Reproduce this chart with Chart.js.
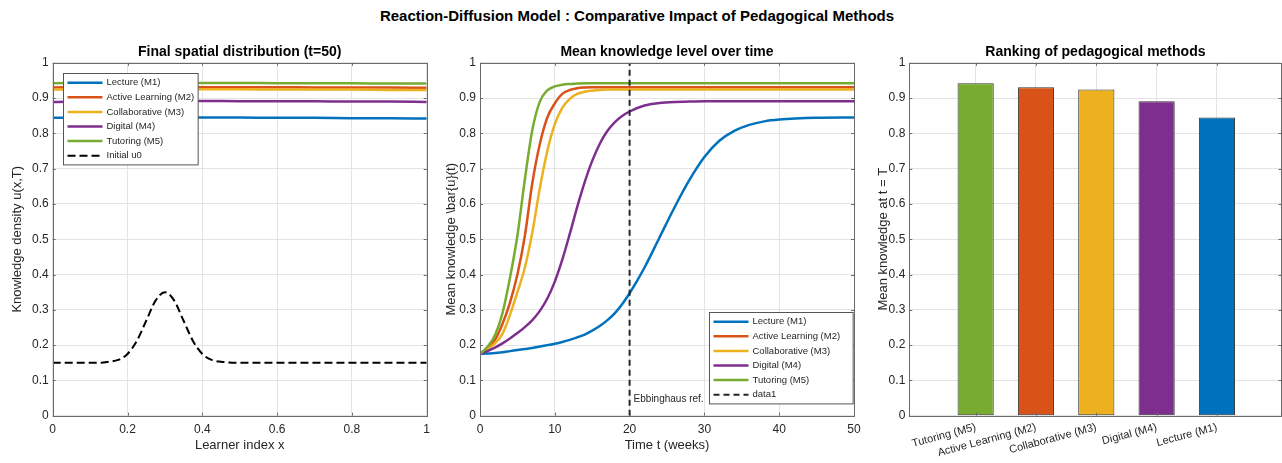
<!DOCTYPE html>
<html>
<head>
<meta charset="utf-8">
<title>Reaction-Diffusion Model</title>
<script src="https://cdn.jsdelivr.net/npm/chart.js@4.4.1/dist/chart.umd.min.js"></script>
<style>
  html, body { margin: 0; padding: 0; background: #fff; }
  #page { position: relative; width: 1282px; height: 463px; overflow: hidden; font-family: "Liberation Sans", Arial, sans-serif; }
  #suptitle { position: absolute; top: 7px; left: 0; width: 1274px; text-align: center; font-weight: bold; font-size: 15px; color: #000; }
  canvas { position: absolute; top: 40px; }
</style>
</head>
<body>
<div id="page">
  <div id="suptitle">Reaction-Diffusion Model : Comparative Impact of Pedagogical Methods</div>
  <canvas id="spatial" width="440" height="423" style="left:0px"></canvas>
  <canvas id="mean" width="430" height="423" style="left:440px"></canvas>
  <canvas id="ranking" width="412" height="423" style="left:870px"></canvas>
</div>
<script>
// ---- data ----
const methods = ["Lecture (M1)", "Active Learning (M2)", "Collaborative (M3)", "Digital (M4)", "Tutoring (M5)"];
const methodColors = ["#0072BD", "#D95319", "#EDB120", "#7E2F8E", "#77AC30"];

// panel 1: final profile u(x, T)
const learnerX = [0, 0.1, 0.2, 0.3, 0.4, 0.5, 0.6, 0.7, 0.8, 0.9, 1];
const finalM1 = [0.844, 0.845, 0.845, 0.845, 0.845, 0.845, 0.844, 0.844, 0.843, 0.843, 0.842];
const finalM2 = [0.930, 0.931, 0.931, 0.931, 0.931, 0.931, 0.931, 0.930, 0.930, 0.930, 0.929];
const finalM3 = [0.924, 0.925, 0.925, 0.925, 0.925, 0.925, 0.924, 0.924, 0.924, 0.923, 0.923];
const finalM4 = [0.889, 0.891, 0.891, 0.892, 0.892, 0.891, 0.891, 0.891, 0.890, 0.890, 0.889];
const finalM5 = [0.942, 0.943, 0.943, 0.943, 0.943, 0.943, 0.942, 0.942, 0.942, 0.941, 0.941];

const initX  = [0, 0.1, 0.125, 0.15, 0.175, 0.2, 0.225, 0.25, 0.275, 0.3, 0.325, 0.35, 0.375, 0.4, 0.425, 0.45, 0.5, 0.6, 0.7, 0.8, 0.9, 1];
const initU0 = [0.15, 0.15, 0.150, 0.153, 0.158, 0.175, 0.212, 0.269, 0.326, 0.35, 0.326, 0.269, 0.212, 0.175, 0.158, 0.153, 0.15, 0.15, 0.15, 0.15, 0.15, 0.15];

// panel 2: mean knowledge over time
const weeks = [0, 1, 2, 3, 4, 5, 6, 7, 8, 9, 10, 11, 12, 13, 14, 15, 16, 17, 18, 19, 20,
               22, 24, 26, 28, 30, 32, 34, 36, 38, 40, 45, 50];
const meanM1 = [0.175, 0.176, 0.178, 0.180, 0.183, 0.186, 0.189, 0.192, 0.196, 0.200, 0.204, 0.209, 0.215, 0.222, 0.230, 0.241, 0.254, 0.270, 0.290, 0.316, 0.347,
                0.420, 0.505, 0.590, 0.668, 0.733, 0.779, 0.807, 0.824, 0.834, 0.839, 0.844, 0.845];
const meanM2 = [0.175, 0.190, 0.215, 0.260, 0.320, 0.400, 0.510, 0.660, 0.770, 0.845, 0.885, 0.912, 0.923, 0.928, 0.930, 0.931, 0.931, 0.931, 0.931, 0.931, 0.931,
                0.931, 0.931, 0.931, 0.931, 0.931, 0.931, 0.931, 0.931, 0.931, 0.931, 0.931, 0.931];
const meanM3 = [0.175, 0.188, 0.205, 0.232, 0.285, 0.350, 0.420, 0.520, 0.645, 0.750, 0.826, 0.872, 0.898, 0.912, 0.918, 0.921, 0.923, 0.924, 0.924, 0.924, 0.924,
                0.924, 0.924, 0.924, 0.924, 0.924, 0.924, 0.924, 0.924, 0.924, 0.924, 0.924, 0.924];
const meanM4 = [0.175, 0.183, 0.193, 0.205, 0.219, 0.234, 0.251, 0.271, 0.297, 0.332, 0.380, 0.442, 0.515, 0.592, 0.662, 0.722, 0.770, 0.806, 0.831, 0.849, 0.862,
                0.879, 0.886, 0.889, 0.890, 0.891, 0.891, 0.891, 0.891, 0.891, 0.891, 0.891, 0.891];
const meanM5 = [0.175, 0.195, 0.228, 0.290, 0.390, 0.510, 0.670, 0.810, 0.890, 0.922, 0.933, 0.938, 0.940, 0.941, 0.942, 0.942, 0.942, 0.942, 0.942, 0.942, 0.942,
                0.942, 0.942, 0.942, 0.942, 0.942, 0.942, 0.942, 0.942, 0.942, 0.942, 0.942, 0.942];
const ebbinghausWeek = 20;

// panel 3: ranking at t = T
const rankLabels = ["Tutoring (M5)", "Active Learning (M2)", "Collaborative (M3)", "Digital (M4)", "Lecture (M1)"];
const rankValues = [0.942, 0.931, 0.924, 0.891, 0.845];
const rankColors = ["#77AC30", "#D95319", "#EDB120", "#7E2F8E", "#0072BD"];

const yTicksStep = 0.1;

// ---- helpers ----
const FONT = '"Liberation Sans", Arial, sans-serif';
const TEXT = "#262626";
const GRID = "#e4e4e4";

Chart.defaults.font.family = FONT;
Chart.defaults.color = TEXT;
Chart.defaults.animation = false;

function pts(xs, ys) {
  return xs.map((x, i) => ({ x: x, y: ys[i] }));
}

// matlab-like tick text: 0, 0.1, ..., 1
function plainNum(v) {
  return String(+Number(v).toFixed(3));
}

// full box with inward tick marks, like the original axes
const boxPlugin = {
  id: "boxAxes",
  afterDatasetsDraw(chart) {
    const { ctx, chartArea: a, scales } = chart;
    ctx.save();
    ctx.strokeStyle = "#6a6a6a";
    ctx.lineWidth = 1;
    ctx.beginPath();
    scales.x.ticks.forEach(t => {
      const px = Math.round(scales.x.getPixelForValue(t.value)) + 0.5;
      ctx.moveTo(px, a.bottom); ctx.lineTo(px, a.bottom - 3);
      ctx.moveTo(px, a.top); ctx.lineTo(px, a.top + 3);
    });
    scales.y.ticks.forEach(t => {
      const py = Math.round(scales.y.getPixelForValue(t.value)) + 0.5;
      ctx.moveTo(a.left, py); ctx.lineTo(a.left + 3, py);
      ctx.moveTo(a.right, py); ctx.lineTo(a.right - 3, py);
    });
    ctx.stroke();
    ctx.strokeRect(Math.round(a.left) + 0.5, Math.round(a.top) + 0.5,
                   Math.round(a.right - a.left), Math.round(a.bottom - a.top));
    ctx.restore();
  }
};

// legend drawn inside the plot area
const boxLegend = {
  id: "boxLegend",
  afterDraw(chart, args, opts) {
    if (!opts || !opts.display) return;
    const { ctx, chartArea: a } = chart;
    const items = chart.data.datasets;
    ctx.save();
    ctx.font = opts.fontSize + "px " + FONT;
    const textW = Math.max(...items.map(d => ctx.measureText(d.label).width));
    const w = opts.textX + textW + opts.padRight;
    const h = opts.rowH * items.length + 2 * opts.pad;
    let x, y;
    if (opts.corner === "tl") { x = a.left + opts.dx; y = a.top + opts.dy; }
    else { x = a.right - opts.dx - w; y = a.bottom - opts.dy - h; }
    x = Math.round(x) + 0.5; y = Math.round(y) + 0.5;
    ctx.fillStyle = "#fff";
    ctx.fillRect(x, y, w, h);
    ctx.strokeStyle = "#555";
    ctx.lineWidth = 1;
    ctx.strokeRect(x, y, w, h);
    items.forEach((d, i) => {
      const cy = y + opts.pad + opts.rowH * (i + 0.5);
      ctx.beginPath();
      ctx.setLineDash(d.borderDash || []);
      ctx.strokeStyle = d.borderColor;
      ctx.lineWidth = d.borderWidth;
      ctx.moveTo(x + 4, cy); ctx.lineTo(x + 39, cy);
      ctx.stroke();
      ctx.setLineDash([]);
      ctx.fillStyle = TEXT;
      ctx.textBaseline = "middle";
      ctx.textAlign = "left";
      ctx.fillText(d.label, x + opts.textX, cy);
    });
    ctx.restore();
  }
};

const ebbLabel = {
  id: "ebbLabel",
  afterDatasetsDraw(chart) {
    const { ctx, scales } = chart;
    ctx.save();
    ctx.font = "10px " + FONT;
    ctx.fillStyle = TEXT;
    ctx.textBaseline = "middle";
    ctx.fillText("Ebbinghaus ref.", scales.x.getPixelForValue(ebbinghausWeek) + 4, scales.y.getPixelForValue(0.046));
    ctx.restore();
  }
};

function yScale(width, titleText, titlePad) {
  return {
    min: 0, max: 1,
    afterFit(s) { s.width = width; },
    ticks: { stepSize: yTicksStep, padding: 4, font: { size: 12 }, color: TEXT, callback: plainNum },
    grid: { color: GRID, drawTicks: false },
    border: { display: false },
    title: { display: true, text: titleText, font: { size: 13 }, color: TEXT, padding: { top: titlePad, bottom: 0 } }
  };
}

function xScaleLinear(min, max, step, titleText) {
  return {
    type: "linear", min: min, max: max,
    afterFit(s) { s.height = 47.3; },
    ticks: { stepSize: step, padding: 7, font: { size: 12 }, color: TEXT, maxRotation: 0, callback: plainNum },
    grid: { color: GRID, drawTicks: false },
    border: { display: false },
    title: { display: true, text: titleText, font: { size: 13 }, color: TEXT, padding: { top: 0, bottom: 10 } }
  };
}

function chartTitle(text) {
  return { display: true, text: text, fullSize: false, color: "#000",
           font: { size: 14, weight: "bold" }, padding: { top: 4, bottom: 2 } };
}

function lineSet(label, data, color, i) {
  return { label: label, data: data, borderColor: color, backgroundColor: color, borderWidth: 2.5,
           pointRadius: 0, cubicInterpolationMode: "monotone", order: -i };
}

// ---- panel 1 ----
const finals = [finalM1, finalM2, finalM3, finalM4, finalM5];
const spatialSets = methods.map((m, i) => lineSet(m, pts(learnerX, finals[i]), methodColors[i], i));
spatialSets.push({ label: "Initial u0", data: pts(initX, initU0), borderColor: "#000", borderWidth: 2,
                   borderDash: [8, 4], pointRadius: 0, cubicInterpolationMode: "monotone", order: -6 });

new Chart(document.getElementById("spatial"), {
  type: "line",
  data: { datasets: spatialSets },
  options: {
    responsive: false,
    layout: { padding: { left: 0, right: 13.3, top: 0, bottom: 0 } },
    scales: {
      x: xScaleLinear(0, 1, 0.2, "Learner index x"),
      y: yScale(52.7, "Knowledge density u(x,T)", 9.2)
    },
    plugins: {
      legend: { display: false },
      tooltip: { enabled: false },
      title: chartTitle("Final spatial distribution (t=50)"),
      boxLegend: { display: true, corner: "tl", dx: 10.6, dy: 10.6, rowH: 14.6, pad: 1.9, textX: 43, padRight: 4, fontSize: 9.5 }
    }
  },
  plugins: [boxPlugin, boxLegend]
});

// ---- panel 2 ----
const means = [meanM1, meanM2, meanM3, meanM4, meanM5];
const meanSets = methods.map((m, i) => lineSet(m, pts(weeks, means[i]), methodColors[i], i));
meanSets.push({ label: "data1", data: [{ x: ebbinghausWeek, y: 0 }, { x: ebbinghausWeek, y: 1 }],
                borderColor: "#262626", borderWidth: 2, borderDash: [6, 4], pointRadius: 0, order: -6 });

new Chart(document.getElementById("mean"), {
  type: "line",
  data: { datasets: meanSets },
  options: {
    responsive: false,
    layout: { padding: { left: 0, right: 16, top: 0, bottom: 0 } },
    scales: {
      x: xScaleLinear(0, 50, 10, "Time t (weeks)"),
      y: yScale(40, "Mean knowledge \\bar{u}(t)", 3.2)
    },
    plugins: {
      legend: { display: false },
      tooltip: { enabled: false },
      title: chartTitle("Mean knowledge level over time"),
      boxLegend: { display: true, corner: "br", dx: 1.3, dy: 12.4, rowH: 14.6, pad: 1.9, textX: 43, padRight: 13, fontSize: 9.5 }
    }
  },
  plugins: [boxPlugin, boxLegend, ebbLabel]
});

// ---- panel 3 ----
new Chart(document.getElementById("ranking"), {
  type: "bar",
  data: {
    datasets: [{
      label: "Mean knowledge at t = T",
      data: rankValues.map((v, i) => ({ x: i + 1, y: v })),
      backgroundColor: rankColors,
      borderColor: "#333",
      borderWidth: 1,
      borderSkipped: false,
      categoryPercentage: 0.6,
      barPercentage: 1
    }]
  },
  options: {
    responsive: false,
    layout: { padding: { left: 0, right: 0.5, top: 0, bottom: 0 } },
    scales: {
      x: {
        type: "linear", min: -0.1, max: 6.07, offset: false,
        afterBuildTicks(s) { s.ticks = rankLabels.map((l, i) => ({ value: i + 1 })); },
        afterFit(s) { s.height = 47.3; },
        ticks: { autoSkip: false, minRotation: 15, maxRotation: 15, padding: 5, font: { size: 11 }, color: TEXT,
                 callback: v => rankLabels[v - 1] },
        grid: { color: GRID, drawTicks: false, offset: false },
        border: { display: false }
      },
      y: yScale(39.3, "Mean knowledge at t = T", 5.2)
    },
    plugins: {
      legend: { display: false },
      tooltip: { enabled: false },
      title: chartTitle("Ranking of pedagogical methods")
    }
  },
  plugins: [boxPlugin]
});
</script>
</body>
</html>
